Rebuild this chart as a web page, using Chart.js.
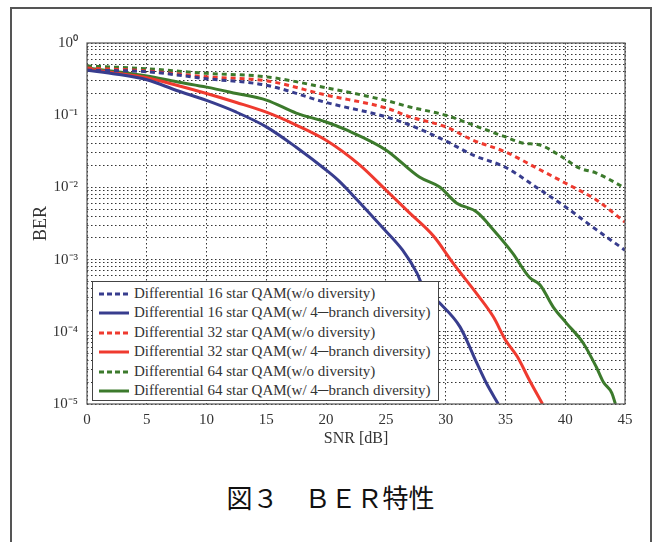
<!DOCTYPE html>
<html lang="ja">
<head>
<meta charset="UTF-8">
<title>BER特性</title>
<script src="https://cdn.jsdelivr.net/npm/chart.js"></script>
<style>
body { margin:0; background:#fff; width:661px; height:542px; overflow:hidden; position:relative; font-family:"Liberation Serif", serif; }
#frame { position:absolute; left:10px; top:7px; width:638px; height:560px; border:2px solid #555; }
#wrap { position:absolute; left:0; top:0; width:661px; height:460px; }
#legend { position:absolute; left:92px; top:281px; width:345px; height:118px; border:1.5px solid #444; background:#fff; }
.row { position:absolute; left:5px; height:19px; line-height:19px; font-size:15px; color:#333; white-space:nowrap; }
.row svg { position:absolute; left:0; top:8px; }
.row span { position:absolute; left:36px; top:0; }
#caption { position:absolute; top:482px; left:0; width:661px; text-align:center; font-family:"Noto Sans CJK JP", sans-serif; font-size:26px; line-height:30px; font-weight:400; color:#111; }
</style>
</head>
<body>
<div id="frame"></div>
<div id="wrap"><canvas id="ber" width="661" height="460"></canvas></div>
<div id="legend"></div>
<div id="caption">図３　ＢＥＲ特性</div>
<script>
// values
const snr16a = [0, 5, 10, 15, 20, 25, 27, 30, 32.3, 35, 37.6, 40, 42.6, 45];
const ber16a = [0.42, 0.40, 0.32, 0.26, 0.15, 0.095, 0.073, 0.044, 0.028, 0.019, 0.01, 0.0054, 0.0026, 0.00135];
const snr16b = [0, 2.5, 5, 7.5, 10, 12.5, 15, 17.5, 20, 21, 22.6, 24.7, 26.4, 27.6, 28.1, 29.5, 31.2, 32.6, 33.4, 34.4];
const ber16b = [0.42, 0.37, 0.31, 0.22, 0.16, 0.11, 0.069, 0.036, 0.0174, 0.0126, 0.0067, 0.0028, 0.00135, 0.00065, 0.00042, 0.00025, 0.000117, 0.000037, 0.0000195, 0.00001];
const snr32a = [0, 5, 10, 15, 20, 25, 27, 30, 32.3, 35, 37.6, 40, 42.6, 45];
const ber32a = [0.45, 0.41, 0.34, 0.30, 0.19, 0.126, 0.095, 0.069, 0.045, 0.031, 0.0186, 0.0115, 0.0067, 0.0033];
const snr32b = [0, 2.5, 5, 7.5, 10, 12.5, 15, 17.5, 20, 22.8, 25, 27, 29, 30.6, 32.7, 34, 35, 36, 37, 38.1];
const ber32b = [0.44, 0.38, 0.33, 0.26, 0.20, 0.15, 0.11, 0.073, 0.045, 0.0205, 0.0092, 0.0044, 0.0021, 0.0009, 0.00032, 0.00016, 0.000077, 0.000045, 0.0000215, 0.00001];
const snr64a = [0, 5, 10, 15, 20, 25, 27, 30, 32.3, 35, 36.5, 37.8, 39.5, 41.2, 42.6, 45];
const ber64a = [0.48, 0.44, 0.38, 0.34, 0.24, 0.16, 0.13, 0.10, 0.073, 0.050, 0.041, 0.039, 0.028, 0.0185, 0.0158, 0.0098];
const snr64b = [0, 2.5, 5, 7.5, 10, 12.5, 15, 17.5, 20, 21.7, 25, 27.8, 29.5, 30.9, 32.6, 34, 35.6, 37, 37.9, 39, 40.1, 41.5, 42.6, 43.2, 43.9, 44.2];
const ber64b = [0.45, 0.40, 0.35, 0.29, 0.245, 0.20, 0.162, 0.107, 0.0805, 0.0624, 0.033, 0.0139, 0.0101, 0.0061, 0.00456, 0.00257, 0.00123, 0.00057, 0.000445, 0.00022, 0.000132, 0.00007, 0.0000325, 0.00002, 0.0000142, 0.00001];

const names = [
  'Differential 16 star QAM(w/o diversity)',
  'Differential 16 star QAM(w/ 4\u2500branch diversity)',
  'Differential 32 star QAM(w/o diversity)',
  'Differential 32 star QAM(w/ 4\u2500branch diversity)',
  'Differential 64 star QAM(w/o diversity)',
  'Differential 64 star QAM(w/ 4\u2500branch diversity)'
];
const xTicks = [0, 5, 10, 15, 20, 25, 30, 35, 40, 45];
const decades = [-5, -4, -3, -2, -1, 0];

const blue = '#383d8e', red = '#ef3a2f', green = '#3c7a2c';
const sup = {'-': '\u207B', '0': '\u2070', '1': '\u00B9', '2': '\u00B2', '3': '\u00B3', '4': '\u2074', '5': '\u2075'};

function pts(xs, ys) { return xs.map((x, i) => ({x: x, y: ys[i]})); }
function ds(i, xs, ys, color, dashed) {
  return {
    label: names[i], data: pts(xs, ys), borderColor: color, backgroundColor: color,
    borderWidth: 3, borderDash: dashed ? [5, 4] : [], pointRadius: 0,
    cubicInterpolationMode: 'monotone', fill: false
  };
}

const boxPlugin = {
  id: 'box',
  afterDatasetsDraw(chart) {
    const a = chart.chartArea, c = chart.ctx;
    c.save();
    c.strokeStyle = '#555';
    c.lineWidth = 1.2;
    c.setLineDash([]);
    c.strokeRect(a.left, a.top, a.right - a.left, a.bottom - a.top);
    c.restore();
  }
};

new Chart(document.getElementById('ber'), {
  type: 'line',
  data: {
    datasets: [
      ds(0, snr16a, ber16a, blue, true),
      ds(1, snr16b, ber16b, blue, false),
      ds(2, snr32a, ber32a, red, true),
      ds(3, snr32b, ber32b, red, false),
      ds(4, snr64a, ber64a, green, true),
      ds(5, snr64b, ber64b, green, false)
    ]
  },
  options: {
    responsive: false,
    animation: false,
    layout: { padding: { left: 0, top: 43, right: 36, bottom: 0 } },
    plugins: { legend: { display: false }, tooltip: { enabled: false } },
    scales: {
      x: {
        type: 'linear', min: 0, max: 45,
        afterBuildTicks(s) { s.ticks = xTicks.map(v => ({value: v})); },
        afterFit(s) { s.height = 56; },
        grid: { color: '#333', lineWidth: 1, drawTicks: false },
        border: { display: false, dash: [1.5, 2.5] },
        ticks: { padding: 7, color: '#333', font: { family: 'Liberation Serif', size: 15 } },
        title: { display: true, text: 'SNR [dB]', color: '#333', padding: { top: 0, bottom: 12 },
                 font: { family: 'Liberation Serif', size: 16 } }
      },
      y: {
        type: 'logarithmic', min: 1e-5, max: 1,
        afterBuildTicks(s) {
          const t = [];
          decades.forEach(d => {
            for (let m = 1; m <= 9; m++) {
              if (d === 0 && m > 1) break;
              t.push({value: m * Math.pow(10, d), major: m === 1});
            }
          });
          s.ticks = t;
        },
        afterFit(s) { s.width = 87; },
        grid: { color: '#333', lineWidth: 1, drawTicks: false },
        border: { display: false, dash: [1.5, 2.5] },
        ticks: {
          autoSkip: false, padding: 9, color: '#333', font: { family: 'Liberation Serif', size: 15 },
          callback(v) {
            const e = Math.round(Math.log10(v));
            if (Math.abs(v - Math.pow(10, e)) > 1e-12 * Math.pow(10, e + 1)) return '';
            return '10' + String(e).split('').map(ch => sup[ch]).join('');
          }
        },
        title: { display: true, text: 'BER', color: '#333', padding: { top: 30, bottom: 0 },
                 font: { family: 'Liberation Serif', size: 18 } }
      }
    }
  },
  plugins: [boxPlugin]
});

// legend box drawn over the plot, like the original figure
const colors = [blue, blue, red, red, green, green];
const lg = document.getElementById('legend');
names.forEach((n, i) => {
  const r = document.createElement('div');
  r.className = 'row';
  r.style.top = (2 + i * 19.4) + 'px';
  const dash = i % 2 === 0 ? 'stroke-dasharray="5 3"' : '';
  r.innerHTML = '<svg width="32" height="4"><line x1="1" y1="2" x2="31" y2="2" stroke="' + colors[i] +
    '" stroke-width="3" ' + dash + '/></svg><span>' + n + '</span>';
  lg.appendChild(r);
});
</script>
</body>
</html>
